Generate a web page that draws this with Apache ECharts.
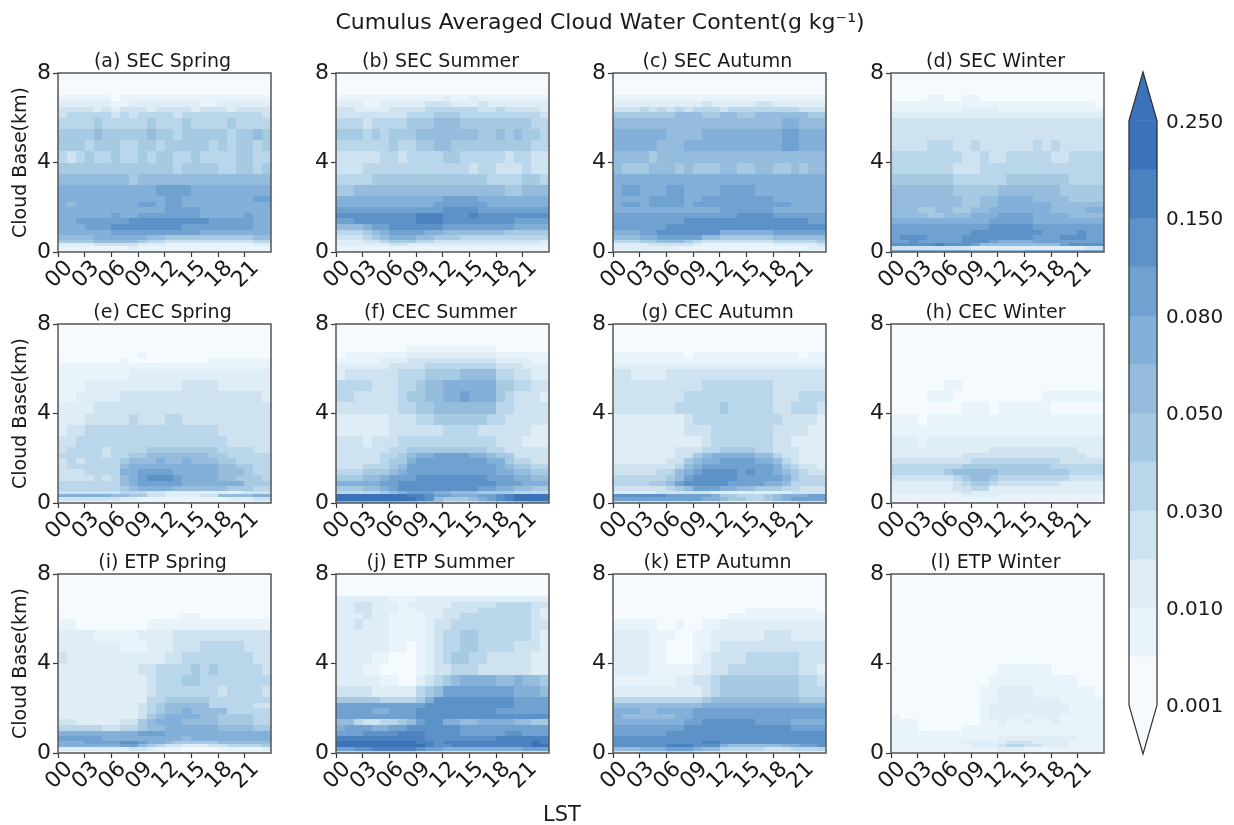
<!DOCTYPE html>
<html><head><meta charset="utf-8">
<style>html,body{margin:0;padding:0;background:#fff}#c{width:1234px;height:825px}</style>
<script src="https://cdn.jsdelivr.net/npm/echarts@6/dist/echarts.min.js"></script>
</head><body><div id="c"></div>
<script>
// Band edges of the filled contours (g/kg), colour of each band, and colour-bar tick labels
const bandEdges=[0.001,0.005,0.01,0.02,0.03,0.04,0.05,0.065,0.08,0.1,0.15,0.2,0.25];
const bandValues=[0.003,0.007,0.015,0.025,0.035,0.045,0.057,0.072,0.09,0.125,0.175,0.225];
const bandColors=['#f5fafe','#e9f3fa','#deedf6','#cfe2f0','#b9d6ea','#a7cae3','#95bcdc','#83b0d8','#6fa2d0','#5c92c8','#4b82c0','#3b73b9'];
const barTickLabels=['0.001','0.010','0.030','0.050','0.080','0.150','0.250'];
const hourLabels=['00','03','06','09','12','15','18','21'];
const hourCategories=['00','01','02','03','04','05','06','07','08','09','10','11','12','13','14','15','16','17','18','19','20','21','22','23','24'];
const heightTicks=[0,4,8];
// Height bin edges (km), top to bottom
const heightEdges=[8,7,6.75,6.5,6.25,6,5.5,5,4.5,4,3.5,3,2.5,2.25,2,1.75,1.5,1.25,1,.75,.55,.4,.25,.1,0];
const panelTitles=['(a) SEC Spring','(b) SEC Summer','(c) SEC Autumn','(d) SEC Winter','(e) CEC Spring','(f) CEC Summer','(g) CEC Autumn','(h) CEC Winter','(i) ETP Spring','(j) ETP Summer','(k) ETP Autumn','(l) ETP Winter'];
// Each row: one height bin (top first); each character: band index for one hour of LST
const secSpring=['000000000000000000000000','111111011111111111111111','222222112222222211222222','333323233323333233323333','344444343444434444444443','444454444454445444454444','555565555565545555545565','555455544554555554545545','434544544545544544445544','555555555555545555445545','666666665666666666666666','777777777778888777777777','777777777777887777777788','767777777887887777777777','777777777777888877777777','777777877888888877777877','778888889999999998888877','777888999999998888888877','777777888888888877777777','666677777766555555555566','555566666544333333333344','222233333222111111111122','111111112111111111111111','111111111111111111111111'];
const secSummer=['000000000000000000000000','111111111111211211111111','222112222233322232222222','332222333344444433433332','333333334445554444444443','444344445556665555555544','555454555666666655656554','444444544556655555555544','333334434444554444434433','333444444444444344333433','444455555555555554444554','556666666666666666655666','777777777777888877777777','777777777778888887777777','888888888888999988888888','999999999aaa999a99999999','889999999aaa999999998888','666788999999888888887777','444567888877666666655555','333456777665554444444444','222334555443333333333332','222222332222222222222222','111111111111111111111111','111111111111111111111111'];
const secAutumn=['000000000000000000000000','111111111111111111111111','222222222232222233222222','333434343444344444444333','555555566655665566666655','666666666666666666677666','777777666677777777788777','777776667777777777788777','666656666666666666666666','655566656555665566556566','777777777777777777777777','788777887777888877777777','777788887788888888777777','788788887888888888887777','777777777777888888777777','888888888888889999888888','888888889999999999999988','888888999999999999999999','777889999999777777888888','666778888866555555666666','444556665433333333444445','222233333211111111222223','222222211111111111111122','111111111111111111111111'];
const secWinter=['000000000000000000000000','000011001100000000000000','111111111111111111111110','111111112222111111111111','222222222222222222222222','333333333333333333333333','333333333333333333333333','333344433433333343433333','444444443343344444334444','444444433344444444444444','555555544444455555554444','666666655555666666655555','666666665566777766665555','666666665566777777666666','666556655667777777666677','666655666777888877776666','777777777778888877777777','888888888889999988888888','888888888999999998888988','899988889999999988899988','889888889998777788888888','99999a999866666666689999','333333333222222222222233','777777777666666777777777'];
const cecSpring=['000000000000000000000000','000000000000000000000000','000000000100000000000000','000000010000000001111111','111111111111111111111111','111111112222222222222222','111222222222223333222222','112222233333333333333332','222233333333333333333333','222333334333443333333333','233444444444444444333333','334444444444444444433333','344443444455555555444433','444443445566666665544444','343444456667667666554444','344444467777777777665544','333444477888877777666544','333343467899987777665554','444444467888887777777555','444444456777766666655544','333333344433222222222333','777777665533222233666677','333333322111111111122233','111111111111111111111111'];
const cecSummer=['000000000000000000000000','000000001111111111000000','011111112222222222111111','111112223333333333222211','222222333344444444333222','233333344455556666443322','444433344566777777554433','443333345566778777543332','333333344556666666443333','222222333445555554433333','222222333333444433333322','333233344444444444333222','333333445555555554433333','333334456778888776553333','333334557888888887754433','333444568888888888765544','444555678888888888776655','555667888999999998887766','777778899999999999888777','555667899999999988776655','444445678887766655554444','bbbbbbbbaa988777889abbbb','bbbbbbbbba965556789abbbb','777777766555333344556677'];
const cecAutumn=['000000000000000000000000','000000000000000000000000','111111110111111111111011','111111111111111111111111','222222222222222222222222','332222333333333333333333','333333333344444444333333','333333334444444444333444','333333344444544444334443','222222223444444444433332','222222223334444444333322','222222222234444444332222','222222233344555544333222','222222233567777766433222','222222335677888877643222','333333346788888888754332','333334467899998988765433','444444568999998888875444','444455689999988887764444','333333456888776655544333','222223333332222222223333','999999888887554445677788','888888888877655445678888','333333333222111111223333'];
const cecWinter=['000000000000000000000000','000000000000000000000000','000000000000000000000000','000000000000000000000000','000000000000000000000000','000000000000000000000000','000000110000000000000000','000011100000000001111111','000000001110111111000000','111011111111111111111111','111111111111111111111111','222122222222222222222222','222222222223333333333222','222222223333333333333322','333333333444444444433333','444444445555555555444444','444444566666555555554444','333333345665444444443333','222222234554333333322222','222222233442222222222222','222222223222222222222222','111111112222111111111111','111111111111111111111111','111111111111111111111111'];
const etpSpring=['000000000000000000000000','000000000000000000000000','000000000000000000000000','000000000000000000000000','000000000000001100000000','110000000011111111111111','222211111222233333333333','222222211122233344444333','322222222222334444444433','222222222334444545444443','222222222234445544444444','222222222234444444344443','222222222244555554444444','222222222345666664444433','222222222345667666644444','222222222356777766555544','332222233567776666555544','444443344566777777666655','777777777888777777777777','888887777777776777777777','777888899877655555666666','777777788654332223344445','222222223321110000111112','111111111111000000001111'];
const etpSummer=['000000000000000000000000','222222111222222222222222','223322212222233333444433','223322211222333344444432','222322111122334444444432','223222111123344444444433','222222111123445544444432','222222110123445544443332','222211000123455443333322','222110000123344433333322','222221100234567777667665','333322222456888888887776','555554444579999999998888','888888888899999999998888','888877888999999999888888','888888888999999999999999','664334456899776677776655','788877889999998888888888','8889999aaa99998888899888','aaaaaaaaaa99999999aaaaaa','bbbbbbbbbaa9aaaaaaaaaaba','bbbbbbbbbba99aaaaaaaaabb','8899aaaaa988777777777888','444444444333333333333333'];
const etpAutumn=['000000000000000000000000','000000000000000000000000','000000000000000000000000','000000000000000111111110','000000000000011111111111','111110010011222222222222','222211100112222223332222','222211000112333333333333','222211000123333444444333','222211111223344444444332','111111122334555555555443','222222222234555555555444','444444444456666666666555','666666666677777777777777','777667777888888888888888','766666677888888888888888','777777778899999988887777','888888889999999999998888','888888999999999999999999','999999999999999999999999','9999999999aa999999999999','999999aaa999766666677889','666777888766444443334444','333444444333222222222222'];
const etpWinter=['000000000000000000000000','000000000000000000000000','000000000000000000000000','000000000000000000000000','000000000000000000000000','000000000000000000000000','000000000000000000000000','000000000000000000000000','000000000000000000000000','000000000000111111000000','000000000001111111111000','000000000011222211111110','000000000011222222211111','000000000012222222221111','000000000012222222221111','100000000012222122211111','111000000011211211211111','111000001111111111111111','111111111111111111111111','111111111111222222222111','111111112222233322221111','111111111222344332221111','111111111111222111111111','111111111111111111111111'];
const panels=[secSpring,secSummer,secAutumn,secWinter,cecSpring,cecSummer,cecAutumn,cecWinter,etpSpring,etpSummer,etpAutumn,etpWinter];

const colLeft=[58,336,613,891],rowTop=[73,324,574],pw=213,ph=179;
const font='"DejaVu Sans"',ink='#1a1a1a',spine='#555555';
const grid=[],xAxis=[],yAxis=[],series=[],title=[];

title.push({text:'Cumulus Averaged Cloud Water Content(g kg\u207B\u00B9)',left:595,top:7,textAlign:'center',textStyle:{fontFamily:font,fontSize:22,fontWeight:'normal',color:ink}});

function cell(params,api){
  const h=api.value(0);
  const a=api.coord([h,api.value(2)]),b=api.coord([h+1,api.value(1)]);
  const x=Math.round(a[0]),y=Math.round(a[1]);
  return {type:'rect',shape:{x:x,y:y,width:Math.round(b[0])-x,height:Math.round(b[1])-y},style:{fill:api.visual('color')}};
}
panels.forEach((rows,i)=>{
  const L=colLeft[i%4],T=rowTop[Math.floor(i/4)];
  grid.push({left:L,top:T,width:pw,height:ph,show:true,z:10,borderColor:spine,borderWidth:1.5,backgroundColor:'transparent'});
  title.push({text:panelTitles[i],left:L+pw/2-7,top:T-25,textAlign:'center',textStyle:{fontFamily:font,fontSize:19,fontWeight:'normal',color:ink}});
  xAxis.push({type:'category',gridIndex:i,data:hourCategories,boundaryGap:false,splitLine:{show:false},axisLine:{show:false},
    axisTick:{show:true,length:5,interval:idx=>idx%3===0&&idx<24,lineStyle:{color:'#333',width:1.2}},
    axisLabel:{interval:0,rotate:45,align:'center',verticalAlign:'middle',margin:24,padding:[0,0,0,4],hideOverlap:false,fontFamily:font,fontSize:22,color:ink,formatter:v=>hourLabels.includes(v)?v:''}});
  yAxis.push({type:'value',gridIndex:i,min:0,max:8,interval:4,splitLine:{show:false},axisLine:{show:false},
    axisTick:{show:true,length:5,lineStyle:{color:'#333',width:1.2}},
    axisLabel:{margin:7,showMinLabel:true,showMaxLabel:true,fontFamily:font,fontSize:22,color:ink,formatter:v=>heightTicks.includes(v)?String(v):''},
    name:i%4===0?'Cloud Base(km)':'',nameLocation:'middle',nameGap:27,nameTextStyle:{fontFamily:font,fontSize:19,color:ink}});
  const data=[];
  rows.forEach((row,r)=>{
    for(let h=0;h<24;h++){
      data.push([h,heightEdges[r+1],heightEdges[r],bandValues[parseInt(row[h],16)]]);
    }
  });
  series.push({type:'custom',xAxisIndex:i,yAxisIndex:i,renderItem:cell,data:data,clip:true,silent:true,animation:false,encode:{x:0,y:[1,2]}});
});

// Colour bar: one grid for the bar and its ticks, one for its labels
const ci=panels.length,li=ci+1,barLevels=[0,2,4,6,8,10,12];
grid.push({left:1129,top:72,width:28,height:682,show:false});
xAxis.push({type:'value',gridIndex:ci,min:0,max:1,show:false});
yAxis.push({type:'value',gridIndex:ci,min:-1,max:13,position:'right',splitLine:{show:false},axisLine:{show:false},
  axisTick:{show:true,length:6,lineStyle:{color:'#333',width:1.2},customValues:barLevels},axisLabel:{show:false}});
grid.push({left:1129,top:74,width:28,height:682,show:false});
xAxis.push({type:'value',gridIndex:li,min:0,max:1,show:false});
yAxis.push({type:'value',gridIndex:li,min:-1,max:13,position:'right',splitLine:{show:false},axisLine:{show:false},axisTick:{show:false},
  axisLabel:{margin:9,fontFamily:font,fontSize:20,color:ink,customValues:barLevels,formatter:v=>barTickLabels[v/2]||''}});
const barData=bandValues.map((v,i)=>[i,i+1,v]);
barData.unshift([-1,0,0.0005]);barData.push([12,13,0.3]);
series.push({type:'custom',xAxisIndex:ci,yAxisIndex:ci,clip:false,silent:true,animation:false,encode:{y:[0,1]},data:barData,
  renderItem(params,api){
    const lo=api.value(0),hi=api.value(1);
    const pts=lo<0?[[0,0],[1,0],[.5,-1]]:hi>12?[[0,12],[1,12],[.5,13]]:[[0,lo],[1,lo],[1,hi],[0,hi]];
    return {type:'polygon',shape:{points:pts.map(p=>api.coord(p))},style:{fill:api.visual('color'),stroke:api.visual('color'),lineWidth:.5}};
  }});
series.push({type:'custom',xAxisIndex:ci,yAxisIndex:ci,clip:false,silent:true,animation:false,z:5,data:[[0]],
  renderItem(params,api){
    const pts=[[.5,-1],[1,0],[1,12],[.5,13],[0,12],[0,0]];
    return {type:'polygon',shape:{points:pts.map(p=>api.coord(p))},style:{fill:'none',stroke:'#333',lineWidth:1.2}};
  }});

const pieces=bandColors.map((c,i)=>({gte:i===0?-1:bandEdges[i],lt:i===11?10:bandEdges[i+1],color:c}));
const chart=echarts.init(document.getElementById('c'),null,{renderer:'canvas'});
chart.setOption({animation:false,backgroundColor:'#fff',title,grid,xAxis,yAxis,series,
  visualMap:[
    {type:'piecewise',show:false,dimension:3,pieces,seriesIndex:panels.map((p,i)=>i)},
    {type:'piecewise',show:false,dimension:2,pieces,seriesIndex:[ci]}
  ],
  graphic:[{type:'text',left:543,top:805,style:{text:'LST',font:'21px '+font,fill:ink}}]});
</script></body></html>
